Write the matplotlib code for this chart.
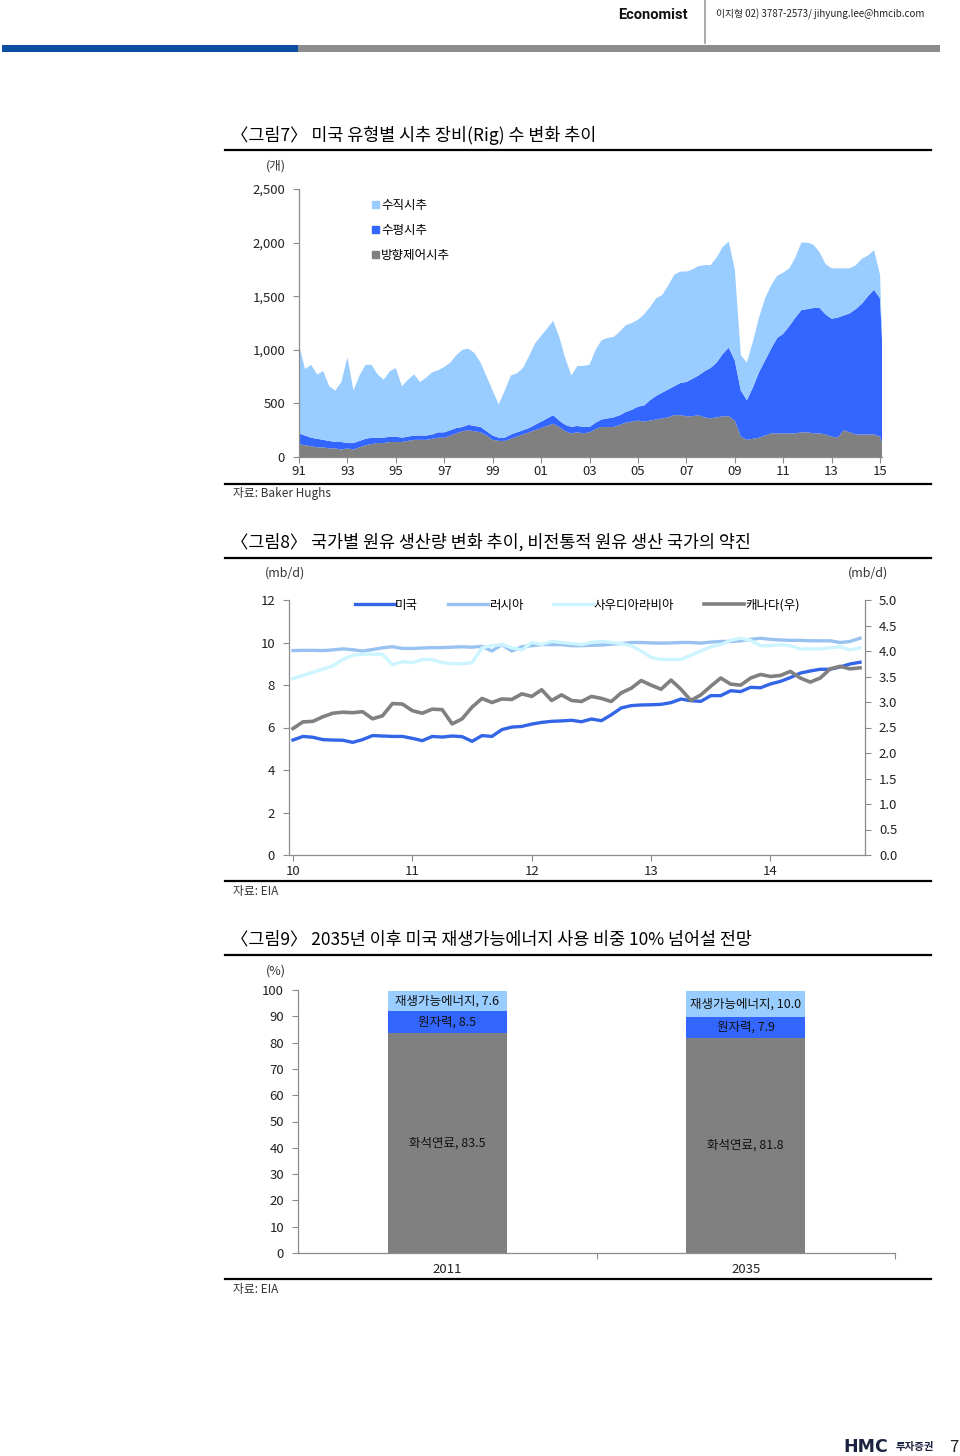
import numpy as np
import matplotlib
matplotlib.use('Agg')
import matplotlib.pyplot as plt
from matplotlib.lines import Line2D
from matplotlib.patches import Patch, Rectangle
from matplotlib.ticker import FuncFormatter

plt.rcParams['font.family'] = ['Noto Sans CJK KR', 'DejaVu Sans']
plt.rcParams['axes.unicode_minus'] = False

W, H = 960, 1456

# ---- 그림7: rig counts (quarterly samples) ----
rig_years = np.arange(1991, 2015.01, 0.25).tolist() + [2015.08]
rig_total = [1050, 820, 860, 770,
             800, 660, 620, 700,
             930, 620, 760, 860,
             860, 770, 720, 800,
             830, 660, 720, 770,
             700, 740, 790, 810,
             840, 880, 950, 1000,
             1010, 970, 880, 750,
             620, 490, 620, 760,
             780, 830, 940, 1060,
             1130, 1200, 1270, 1120,
             920, 760, 850, 850,
             860, 1000, 1090, 1110,
             1120, 1170, 1230, 1250,
             1280, 1330, 1400, 1480,
             1510, 1600, 1700, 1730,
             1730, 1750, 1780, 1790,
             1790, 1860, 1960, 2010,
             1750, 950, 880, 1080,
             1300, 1480, 1600, 1690,
             1720, 1760, 1860, 2000,
             2000, 1980, 1910, 1800,
             1760, 1760, 1760, 1760,
             1790, 1850, 1880, 1930,
             1700, 1130]
rig_dir_plus_horiz = [220, 200, 180, 170,
                      160, 150, 140, 140,
                      130, 130, 150, 170,
                      180, 180, 180, 190,
                      190, 180, 190, 200,
                      200, 200, 210, 230,
                      230, 250, 270, 280,
                      300, 290, 280, 240,
                      200, 180, 180, 210,
                      230, 250, 270, 300,
                      330, 360, 390, 340,
                      300, 280, 290, 280,
                      280, 320, 350, 360,
                      370, 390, 420, 440,
                      470, 480, 530, 570,
                      600, 630, 660, 690,
                      700, 730, 760, 800,
                      830, 880, 960, 1020,
                      900, 620, 530, 650,
                      790, 900, 1010, 1110,
                      1150, 1220, 1300, 1370,
                      1380, 1390, 1390, 1330,
                      1290, 1300, 1320, 1340,
                      1380, 1430, 1500, 1560,
                      1480, 1100]
rig_directional = [120, 110, 100, 90,
                   90, 80, 80, 70,
                   80, 70, 90, 110,
                   120, 130, 130, 140,
                   140, 140, 150, 160,
                   160, 160, 170, 180,
                   180, 200, 220, 240,
                   250, 240, 230, 200,
                   160, 150, 150, 170,
                   190, 210, 230, 250,
                   270, 290, 310, 280,
                   240, 220, 230, 220,
                   230, 260, 280, 280,
                   280, 300, 320, 330,
                   340, 330, 340, 350,
                   360, 370, 390, 390,
                   380, 380, 390, 370,
                   360, 370, 380, 380,
                   340, 190, 160, 170,
                   180, 200, 220, 220,
                   220, 220, 220, 230,
                   230, 220, 220, 210,
                   190, 180, 250, 230,
                   210, 210, 210, 210,
                   190, 130]
rig_labels = ['수직시추', '수평시추', '방향제어시추']
rig_ticks = [1991, 1993, 1995, 1997, 1999, 2001, 2003, 2005, 2007, 2009, 2011, 2013, 2015]
rig_ticklabels = ['91', '93', '95', '97', '99', '01', '03', '05', '07', '09', '11', '13', '15']

# ---- 그림8: crude production, monthly Jan-2010 .. Oct-2014 ----
prod_us = [5.41, 5.58, 5.54, 5.43, 5.41, 5.40, 5.30, 5.43, 5.62, 5.60, 5.58, 5.58,
           5.49, 5.38, 5.58, 5.55, 5.60, 5.57, 5.35, 5.62, 5.58, 5.90, 6.02, 6.05,
           6.16, 6.24, 6.29, 6.31, 6.34, 6.27, 6.40, 6.32, 6.60, 6.92, 7.03, 7.06,
           7.07, 7.09, 7.17, 7.34, 7.26, 7.23, 7.50, 7.50, 7.73, 7.69, 7.89, 7.87,
           8.05, 8.17, 8.35, 8.56, 8.66, 8.74, 8.74, 8.85, 8.99, 9.07]
prod_russia = [9.62, 9.63, 9.63, 9.62, 9.65, 9.70, 9.66, 9.60, 9.67, 9.75, 9.80, 9.72,
               9.72, 9.74, 9.76, 9.76, 9.78, 9.80, 9.78, 9.82, 9.60, 9.90, 9.60, 9.80,
               9.85, 9.90, 9.90, 9.90, 9.85, 9.85, 9.87, 9.88, 9.92, 9.95, 10.00, 10.00,
               9.98, 9.97, 9.98, 10.00, 10.00, 9.97, 10.02, 10.05, 10.05, 10.08, 10.15, 10.20,
               10.15, 10.12, 10.10, 10.10, 10.08, 10.08, 10.08, 10.00, 10.05, 10.20]
prod_saudi = [8.30, 8.45, 8.60, 8.75, 8.90, 9.20, 9.40, 9.45, 9.45, 9.45, 8.95, 9.10,
              9.05, 9.20, 9.20, 9.05, 9.00, 9.00, 9.05, 9.75, 9.85, 9.90, 9.75, 9.65,
              10.00, 9.90, 10.05, 10.00, 9.95, 9.90, 10.00, 10.05, 10.00, 9.95, 9.85, 9.60,
              9.30, 9.20, 9.20, 9.20, 9.40, 9.60, 9.80, 9.90, 10.10, 10.20, 10.10, 9.85,
              9.85, 9.90, 9.85, 9.70, 9.70, 9.70, 9.75, 9.80, 9.65, 9.75]
prod_canada = [2.48, 2.61, 2.62, 2.71, 2.78, 2.80, 2.79, 2.81, 2.67, 2.73, 2.97, 2.96,
               2.83, 2.78, 2.86, 2.85, 2.57, 2.67, 2.90, 3.07, 2.99, 3.06, 3.05, 3.16,
               3.11, 3.24, 3.03, 3.14, 3.03, 3.01, 3.11, 3.07, 3.01, 3.18, 3.27, 3.42,
               3.33, 3.25, 3.43, 3.25, 3.03, 3.14, 3.31, 3.47, 3.35, 3.33, 3.47, 3.54,
               3.50, 3.52, 3.60, 3.47, 3.39, 3.47, 3.65, 3.70, 3.65, 3.67]
prod_labels = ['미국', '러시아', '사우디아라비아', '캐나다(우)']
prod_year_ticks = ['10', '11', '12', '13', '14']

# ---- 그림9: energy mix ----
mix_years = ['2011', '2035']
mix_fossil = [83.5, 81.8]
mix_nuclear = [8.5, 7.9]
mix_renew = [7.6, 10.0]
mix_names = ['화석연료', '원자력', '재생가능에너지']

LIGHT = '#99CCFF'
BLUE = '#3366FF'
GRAY = '#808080'
AXC = '#8c8c8c'


def axes_px(l, t, r, b):
    return fig.add_axes([l / W, 1 - b / H, (r - l) / W, (b - t) / H])


def text_px(x, y, s, **kw):
    kw.setdefault('va', 'center')
    return fig.text(x / W, 1 - y / H, s, **kw)


def line_px(x0, x1, y0, y1, **kw):
    fig.add_artist(Line2D([x0 / W, x1 / W], [1 - y0 / H, 1 - y1 / H],
                          transform=fig.transFigure, **kw))


def style_axis(ax):
    for s in ['top', 'right']:
        ax.spines[s].set_visible(False)
    for s in ['left', 'bottom']:
        ax.spines[s].set_color(AXC)
        ax.spines[s].set_linewidth(0.9)
    ax.tick_params(colors=AXC, length=4, width=0.8, labelcolor='#222222', labelsize=9.5)


fig = plt.figure(figsize=(W / 100, H / 100), dpi=100)

# header
text_px(653, 15, 'Economist', ha='center', fontsize=10.5, fontweight='bold',
        family=['Roboto', 'DejaVu Sans'], color='#111111')
line_px(705, 705, 0, 43, color='#999999', lw=1.2)
text_px(716, 14, '이지형 02) 3787-2573/ jihyung.lee@hmcib.com', ha='left',
        fontsize=7, color='#222222')
fig.add_artist(Rectangle((2 / W, 1 - 52 / H), 296 / W, 7 / H, transform=fig.transFigure,
                         color='#0B4EA2', lw=0))
fig.add_artist(Rectangle((298 / W, 1 - 52 / H), 642 / W, 7 / H, transform=fig.transFigure,
                         color='#8C8C8C', lw=0))

# ---------- 그림7 ----------
text_px(231, 135, '〈그림7〉 미국 유형별 시추 장비(Rig) 수 변화 추이', ha='left', fontsize=12.5)
line_px(225, 931, 150, 150, color='black', lw=1.6)
line_px(225, 931, 484, 484, color='black', lw=1.6)
text_px(233, 494, '자료: Baker Hughs', ha='left', fontsize=8.5, color='#333333')
text_px(276, 166, '(개)', ha='center', fontsize=9, color='#333333')

ax7 = axes_px(299, 189, 882, 457)
top = np.array(rig_total)
mid = np.array(rig_dir_plus_horiz)
bot = np.array(rig_directional)
ax7.stackplot(rig_years, bot, mid - bot, top - mid, colors=[GRAY, BLUE, LIGHT], lw=0)
ax7.set_xlim(1991, 2015.08)
ax7.set_ylim(0, 2500)
ax7.set_xticks(rig_ticks)
ax7.set_xticklabels(rig_ticklabels)
ax7.set_yticks(range(0, 2501, 500))
ax7.yaxis.set_major_formatter(FuncFormatter(lambda v, p: f'{int(v):,}'))
style_axis(ax7)
ax7.tick_params(axis='x', pad=2)
ax7.tick_params(axis='y', pad=6)
handles7 = [Patch(color=LIGHT), Patch(color=BLUE), Patch(color=GRAY)]
ax7.legend(handles7, rig_labels, loc='upper left', bbox_to_anchor=(372 / W, 1 - 199 / H),
           bbox_transform=fig.transFigure, frameon=False, fontsize=9,
           handlelength=0.55, handleheight=0.55, handletextpad=0.2, labelspacing=0.95,
           borderaxespad=0, borderpad=0)

# ---------- 그림8 ----------
text_px(231, 542, '〈그림8〉 국가별 원유 생산량 변화 추이, 비전통적 원유 생산 국가의 약진',
        ha='left', fontsize=12.5)
line_px(225, 931, 558, 558, color='black', lw=1.6)
line_px(225, 931, 881, 881, color='black', lw=1.6)
text_px(233, 891, '자료: EIA', ha='left', fontsize=8.5, color='#333333')
text_px(285, 573, '(mb/d)', ha='center', fontsize=9, color='#333333')
text_px(868, 573, '(mb/d)', ha='center', fontsize=9, color='#333333')

ax8 = axes_px(289, 600, 865, 855)
months = np.arange(len(prod_us))
l_ru, = ax8.plot(months, prod_russia, color='#99C2F0', lw=2.4)
l_sa, = ax8.plot(months, prod_saudi, color='#CCF5FF', lw=2.4)
l_us, = ax8.plot(months, prod_us, color='#3366E6', lw=2.4)
ax8.set_xlim(-0.4, 57.5)
ax8.set_ylim(0, 12)
ax8.set_yticks(range(0, 13, 2))
ax8.set_xticks(range(0, 49, 12))
ax8.set_xticklabels(prod_year_ticks)
style_axis(ax8)
ax8.tick_params(axis='y', pad=6)
ax8.tick_params(axis='x', pad=3)

ax8r = ax8.twinx()
l_ca, = ax8r.plot(months, prod_canada, color=GRAY, lw=2.6)
ax8r.set_ylim(0, 5)
ax8r.set_yticks(np.arange(0, 5.01, 0.5))
ax8r.yaxis.set_major_formatter(FuncFormatter(lambda v, p: f'{v:.1f}'))
for s in ['top', 'left', 'bottom']:
    ax8r.spines[s].set_visible(False)
ax8r.spines['right'].set_color(AXC)
ax8r.spines['right'].set_linewidth(0.9)
ax8r.tick_params(colors=AXC, length=4, width=0.8, labelcolor='#222222', labelsize=9.5, pad=6)

ax8r.legend([l_us, l_ru, l_sa, l_ca], prod_labels, loc='center',
            bbox_to_anchor=(577 / W, 1 - 605 / H), bbox_transform=fig.transFigure,
            ncol=4, frameon=False, fontsize=9, handlelength=3.2, handletextpad=0.05,
            columnspacing=2.4, borderaxespad=0, borderpad=0)

# ---------- 그림9 ----------
text_px(231, 940, '〈그림9〉 2035년 이후 미국 재생가능에너지 사용 비중 10% 넘어설 전망',
        ha='left', fontsize=12.5)
line_px(225, 931, 955, 955, color='black', lw=1.6)
line_px(225, 931, 1279, 1279, color='black', lw=1.6)
text_px(233, 1289, '자료: EIA', ha='left', fontsize=8.5, color='#333333')
text_px(276, 971, '(%)', ha='center', fontsize=9, color='#333333')

ax9 = axes_px(298, 990, 895, 1253)
pos = np.arange(len(mix_years))
fossil = np.array(mix_fossil)
nuclear = np.array(mix_nuclear)
renew = np.array(mix_renew)
ax9.bar(pos, fossil, width=0.4, color=GRAY)
ax9.bar(pos, nuclear, width=0.4, bottom=fossil, color=BLUE)
ax9.bar(pos, renew, width=0.4, bottom=fossil + nuclear, color=LIGHT)
for i in pos:
    ax9.text(i, fossil[i] / 2, f'{mix_names[0]}, {fossil[i]:.1f}', ha='center', va='center',
             fontsize=9, color='#111111')
    ax9.text(i, fossil[i] + nuclear[i] / 2, f'{mix_names[1]}, {nuclear[i]:.1f}', ha='center',
             va='center', fontsize=9, color='#111111')
    ax9.text(i, fossil[i] + nuclear[i] + renew[i] / 2, f'{mix_names[2]}, {renew[i]:.1f}',
             ha='center', va='center', fontsize=9, color='#111111')
ax9.set_xlim(-0.5, 1.5)
ax9.set_ylim(0, 100)
ax9.set_yticks(range(0, 101, 10))
ax9.set_xticks(pos)
ax9.set_xticklabels(mix_years)
ax9.set_xticks([0.5, 1.5], minor=True)
style_axis(ax9)
ax9.tick_params(axis='x', which='major', length=0, pad=7)
ax9.tick_params(axis='x', which='minor', length=4, color=AXC, width=0.8)
ax9.tick_params(axis='y', pad=6)

# footer
text_px(866, 1447, 'HMC', ha='center', fontsize=12.5, fontweight='heavy',
        family=['DejaVu Sans'], color='#1c2340')
text_px(915, 1447, '투자증권', ha='center', fontsize=7.5, fontweight='bold', color='#1c2340')
text_px(954, 1447, '7', ha='center', fontsize=12, color='#222222')

fig.savefig('out.png', dpi=100)
